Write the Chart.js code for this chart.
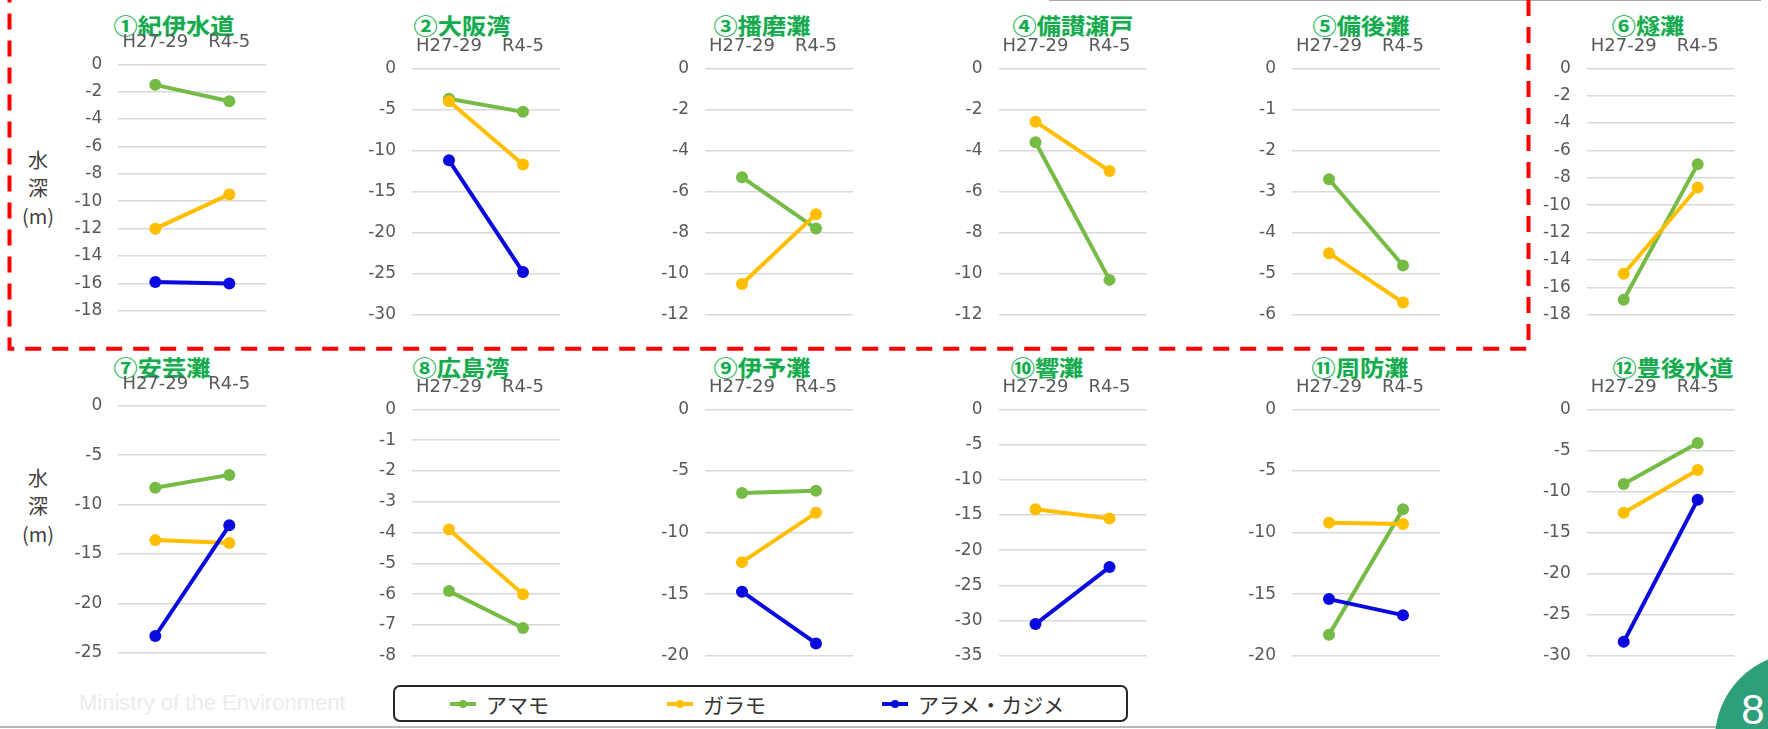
<!DOCTYPE html>
<html lang="ja">
<head>
<meta charset="utf-8">
<title>水深の変化（H27-29 → R4-5）</title>
<script src="https://cdn.jsdelivr.net/npm/chart.js@4.4.1/dist/chart.umd.min.js"></script>
<style>
  html, body { margin: 0; padding: 0; background: #ffffff; }
  body {
    position: relative; width: 1768px; height: 729px; overflow: hidden;
    font-family: "Noto Sans CJK JP", "Noto Sans", sans-serif;
  }
  .panel { position: absolute; }
  .panel-title {
    position: absolute; font-size: 22px; font-weight: 700; color: #18a84e;
    white-space: nowrap; line-height: 1;
    transform: translate(-50%, -50%) scaleX(1.1);
    text-shadow: 0 0 3px #dcfbe9, 0 0 2px #dcfbe9;
  }
  .depth-label {
    position: absolute; width: 60px; margin-left: -30px; text-align: center;
    font-size: 20px; line-height: 28px; color: #404040;
  }
  .legend {
    position: absolute; left: 393px; top: 685px; width: 731px; height: 33px;
    border: 2px solid #262626; border-radius: 7px; background: #fff;
  }
  .legend-item {
    position: absolute; top: 0; height: 33px; display: flex; align-items: center;
    font-size: 21px; color: #333333; white-space: nowrap;
  }
  .swatch { position: relative; width: 26px; height: 4px; margin-right: 10px; }
  .swatch::after {
    content: ""; position: absolute; left: 9px; top: -2px; width: 8px; height: 8px;
    border-radius: 50%; background: inherit;
  }
  .watermark {
    position: absolute; left: 79px; top: 690px; font-family: "Liberation Sans", Arial, sans-serif;
    font-size: 22px; color: #ececec; white-space: nowrap;
  }
  .rule-bottom { position: absolute; left: 0; top: 726px; width: 1768px; height: 2px; background: #b8b8b8; }
  .rule-top { position: absolute; left: 1049px; top: 0; width: 712px; height: 1px; background: #a8a8a8; }
  .page-badge {
    position: absolute; left: 1715px; top: 653px; width: 172px; height: 172px;
    border-radius: 50%; background: #2f9f7b;
  }
  .page-no {
    position: absolute; left: 1753px; top: 710px; transform: translate(-50%, -50%);
    font-family: "Liberation Sans", Arial, sans-serif; font-size: 42px; color: #ffffff; line-height: 1;
  }
  svg.frame { position: absolute; left: 0; top: 0; }
</style>
</head>
<body>
<div class="rule-top"></div>
<div class="rule-bottom"></div>
<div class="watermark">Ministry of the Environment</div>

<div class="depth-label" style="left:38px; top:146px;">水<br>深<br>(m)</div>
<div class="depth-label" style="left:38px; top:464px;">水<br>深<br>(m)</div>

<svg class="frame" width="1768" height="729">
  <rect x="9.5" y="-20" width="1519" height="368.7" fill="none" stroke="#ff0000" stroke-width="4" stroke-dasharray="16 11"/>
</svg>

<div class="legend" id="legend"></div>

<div class="page-badge"></div>
<div class="page-no">8</div>

<script>
// Survey periods (x categories) and sea areas
const periods = ['H27-29', 'R4-5'];
const areaNames = ['①紀伊水道', '②大阪湾', '③播磨灘', '④備讃瀬戸', '⑤備後灘', '⑥燧灘',
                   '⑦安芸灘', '⑧広島湾', '⑨伊予灘', '⑩響灘', '⑪周防灘', '⑫豊後水道'];
const seriesNames = ['アマモ', 'ガラモ', 'アラメ・カジメ'];

// Depth (m) of each seaweed bed type, [H27-29, R4-5] per area; null = not observed
const amamo  = [[-1.5, -2.7], [-3.7, -5.3], [-5.3, -7.8], [-3.6, -10.3], [-2.7, -4.8], [-16.9, -7.0],
                [-8.3, -7.0], [-5.9, -7.1], [-6.8, -6.6], null, [-18.3, -8.1], [-9.1, -4.1]];
const garamo = [[-12.0, -9.5], [-4.0, -11.7], [-10.5, -7.1], [-2.6, -5.0], [-4.5, -5.7], [-15.0, -8.7],
                [-13.6, -13.9], [-3.9, -6.0], [-12.4, -8.4], [-14.2, -15.5], [-9.2, -9.3], [-12.6, -7.4]];
const arame  = [[-15.9, -16.0], [-11.2, -24.8], null, null, null, null,
                [-23.3, -12.1], null, [-14.8, -19.0], [-30.5, -22.4], [-15.4, -16.7], [-28.3, -11.0]];

// Y axis range (bottom value, top is 0) and tick step per area
const axisMin  = [-18, -30, -12, -12, -6, -18, -25, -8, -20, -35, -20, -30];
const axisStep = [2, 5, 2, 2, 1, 2, 5, 1, 5, 5, 5, 5];

// Styling and layout
const seriesColors = ['#76bb45', '#ffbf00', '#0a0adf'];
const tickFont = '"DejaVu Sans", "Liberation Sans", sans-serif';
const PLOT_W = 148, PLOT_H = 258.4;
const colLeft = [118.3, 412, 705, 998.5, 1292, 1586.7];
const rowTop = [68.3, 409.3];
const firstColLift = [4, 3.6];
const titleX = [174, 462, 762, 1073, 1361, 1648, 162, 461, 762, 1047, 1360, 1673];
const titleY = [24, 366];

const seriesData = [amamo, garamo, arame];

function buildPanel(i) {
  const r = Math.floor(i / 6), c = i % 6;
  const L = colLeft[c];
  const T = rowTop[r] - (c === 0 ? firstColLift[r] : 0);
  const CL = Math.floor(L - 64);
  const yW = L - CL;
  const CT = Math.floor(T - 40);
  const hx = T - CT;
  const CW = Math.ceil(yW + PLOT_W + 10);
  const CH = Math.ceil(hx + PLOT_H + 14);

  const title = document.createElement('div');
  title.className = 'panel-title';
  title.textContent = areaNames[i];
  title.style.left = titleX[i] + 'px';
  title.style.top = titleY[r] + 'px';
  document.body.appendChild(title);

  const canvas = document.createElement('canvas');
  canvas.className = 'panel';
  canvas.width = CW; canvas.height = CH;
  canvas.style.left = CL + 'px'; canvas.style.top = CT + 'px';
  canvas.style.width = CW + 'px'; canvas.style.height = CH + 'px';
  document.body.appendChild(canvas);

  const datasets = [];
  seriesData.forEach((s, k) => {
    if (!s[i]) return;
    datasets.push({
      label: seriesNames[k],
      data: s[i],
      borderColor: seriesColors[k],
      backgroundColor: seriesColors[k],
      pointBackgroundColor: seriesColors[k],
      borderWidth: 4,
      pointRadius: 6,
      pointBorderWidth: 0,
      order: 2 - k,
      clip: false,
      tension: 0
    });
  });

  new Chart(canvas, {
    type: 'line',
    data: { labels: periods, datasets },
    options: {
      responsive: false,
      animation: false,
      devicePixelRatio: 1,
      events: [],
      layout: { padding: { left: 0, top: 0, right: CW - yW - PLOT_W, bottom: CH - hx - PLOT_H } },
      plugins: { legend: { display: false }, tooltip: { enabled: false }, title: { display: false } },
      scales: {
        x: {
          position: 'top',
          offset: true,
          grid: { display: false, drawTicks: false },
          border: { display: false },
          ticks: { color: '#595959', font: { family: tickFont, size: 18 }, padding: 10.7, maxRotation: 0, autoSkip: false },
          afterFit: s => { s.height = hx; }
        },
        y: {
          min: axisMin[i],
          max: 0,
          grid: { color: '#d9d9d9', lineWidth: 1.5, drawTicks: false },
          border: { display: false },
          ticks: { stepSize: axisStep[i], color: '#595959', font: { family: tickFont, size: 17 }, padding: 16, maxTicksLimit: 40 },
          afterFit: s => { s.width = yW; }
        }
      }
    }
  });
}

for (let i = 0; i < areaNames.length; i++) buildPanel(i);

// Legend: line-and-marker swatch followed by series name
const legendOffsets = [55, 272, 487];
const legend = document.getElementById('legend');
seriesNames.forEach((name, k) => {
  const item = document.createElement('div');
  item.className = 'legend-item';
  item.style.left = legendOffsets[k] + 'px';
  const sw = document.createElement('span');
  sw.className = 'swatch';
  sw.style.background = seriesColors[k];
  const txt = document.createElement('span');
  txt.textContent = name;
  item.appendChild(sw);
  item.appendChild(txt);
  legend.appendChild(item);
});
</script>
</body>
</html>
